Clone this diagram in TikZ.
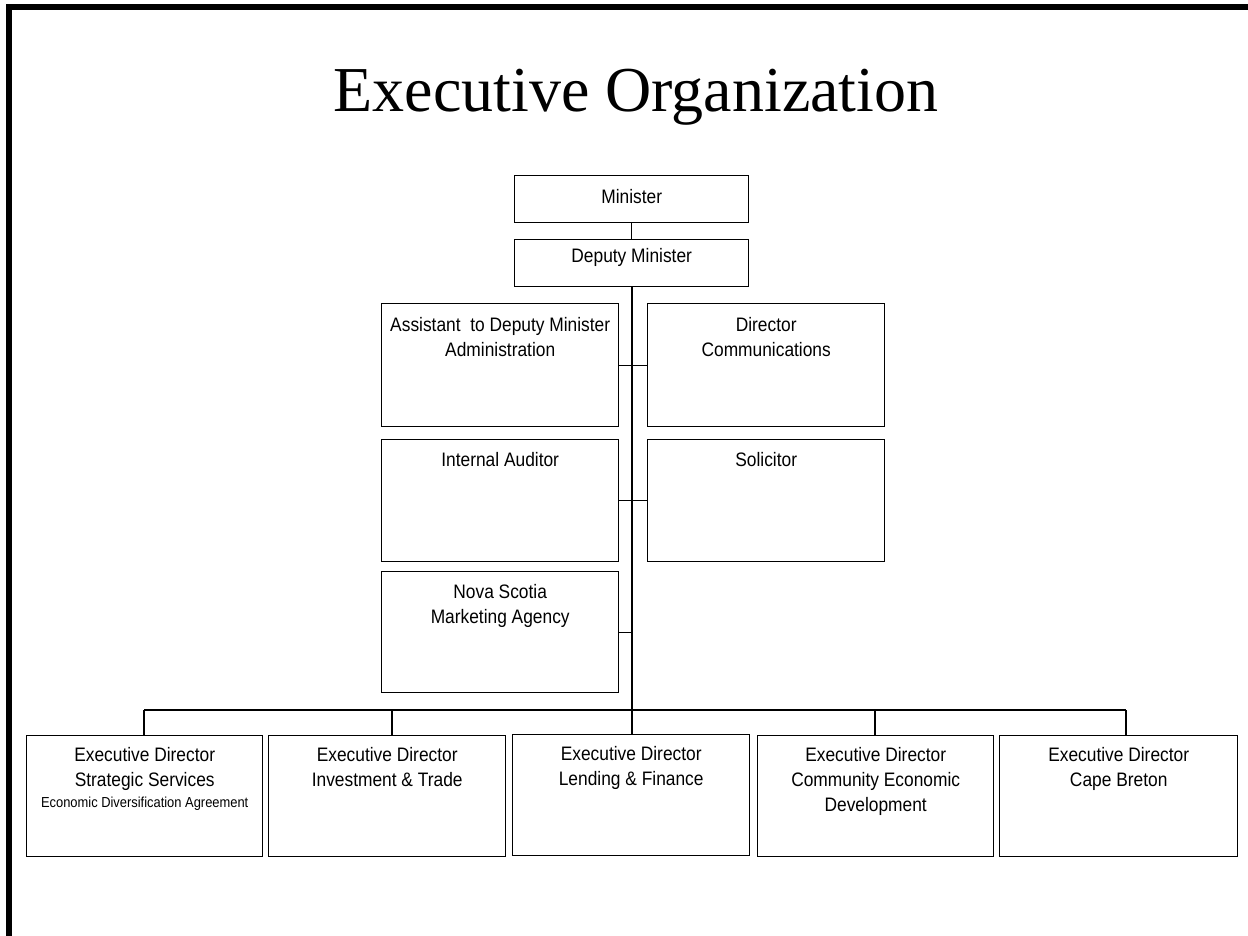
\documentclass[tikz,border=0pt]{standalone}
\usepackage{fontspec}
\newfontfamily\labfont[FakeStretch=0.89]{Liberation Sans}
\newfontfamily\titlefont{Liberation Serif}
\newcommand{\fstrut}{\rule{0pt}{16pt}}
\tikzset{
  orgbox/.style={draw=black, line width=1.4pt, inner sep=0pt, anchor=north west},
  lbl/.style={anchor=north, inner sep=0pt, align=center, font=\labfont\fontsize{19.5}{25}\selectfont},
  conn/.style={draw=black, line width=1.3pt},
}
\begin{document}
\begin{tikzpicture}[x=1pt,y=-1pt]
\useasboundingbox (0,0) rectangle (1248,936);
% page border
\fill[black] (6,4) rectangle (1248,10);
\fill[black] (6,4) rectangle (12,936);
% title
\node[anchor=base, inner sep=0pt, font=\titlefont\fontsize{64}{70}\selectfont] (title) at (636,112) {Executive Organization};
% top boxes
\node[orgbox, minimum width=234, minimum height=47] (min) at (514,175) {};
\node[lbl] (minT) at ([yshift=-12pt]min.north) {\fstrut Minister};
\node[orgbox, minimum width=234, minimum height=47] (dep) at (514,239) {};
\node[lbl] (depT) at ([yshift=-7pt]dep.north) {\fstrut Deputy Minister};
% staff boxes
\node[orgbox, minimum width=237, minimum height=123] (asst) at (381,303) {};
\node[lbl] (asstT) at ([yshift=-12pt]asst.north) {\fstrut Assistant\ \ to Deputy Minister\\Administration};
\node[orgbox, minimum width=237, minimum height=123] (dir) at (647,303) {};
\node[lbl] (dirT) at ([yshift=-12pt]dir.north) {\fstrut Director\\Communications};
\node[orgbox, minimum width=237, minimum height=122] (aud) at (381,439) {};
\node[lbl] (audT) at ([yshift=-11pt]aud.north) {\fstrut Internal Auditor};
\node[orgbox, minimum width=237, minimum height=122] (sol) at (647,439) {};
\node[lbl] (solT) at ([yshift=-11pt]sol.north) {\fstrut Solicitor};
\node[orgbox, minimum width=237, minimum height=121] (nsma) at (381,571) {};
\node[lbl] (nsmaT) at ([yshift=-11pt]nsma.north) {\fstrut Nova Scotia\\Marketing Agency};
% executive directors
\node[orgbox, minimum width=236, minimum height=121] (e1) at (26,735) {};
\node[lbl] (e1T) at ([yshift=-10pt]e1.north) {\fstrut Executive Director\\Strategic Services\\[-4pt]{\fontsize{14.5}{18}\selectfont Economic Diversification Agreement}};
\node[orgbox, minimum width=237, minimum height=121] (e2) at (268,735) {};
\node[lbl] (e2T) at ([yshift=-10pt]e2.north) {\fstrut Executive Director\\Investment \& Trade};
\node[orgbox, minimum width=237, minimum height=121] (e3) at (512,734) {};
\node[lbl] (e3T) at ([yshift=-10pt]e3.north) {\fstrut Executive Director\\Lending \& Finance};
\node[orgbox, minimum width=236, minimum height=121] (e4) at (757,735) {};
\node[lbl] (e4T) at ([yshift=-10pt]e4.north) {\fstrut Executive Director\\Community Economic\\Development};
\node[orgbox, minimum width=238, minimum height=121] (e5) at (999,735) {};
\node[lbl] (e5T) at ([yshift=-10pt]e5.north) {\fstrut Executive Director\\Cape Breton};
% connectors
\coordinate (bus) at (632,710);
\coordinate (b1) at (144,710);
\coordinate (b2) at (392,710);
\coordinate (b4) at (875,710);
\coordinate (b5) at (1126,710);
\draw[conn] (min.south) -- (dep.north);
\draw[conn] (dep.south -| bus) -- (bus);
\draw[conn] (asst.east) -- (dir.west);
\draw[conn] (aud.east) -- (sol.west);
\draw[conn] (nsma.east) -- (nsma.east -| bus);
\draw[conn] (b1) -- (b5);
\draw[conn] (b1) -- (b1 |- e1.north);
\draw[conn] (b2) -- (b2 |- e2.north);
\draw[conn] (bus) -- (bus |- e3.north);
\draw[conn] (b4) -- (b4 |- e4.north);
\draw[conn] (b5) -- (b5 |- e5.north);
\end{tikzpicture}
\end{document}
